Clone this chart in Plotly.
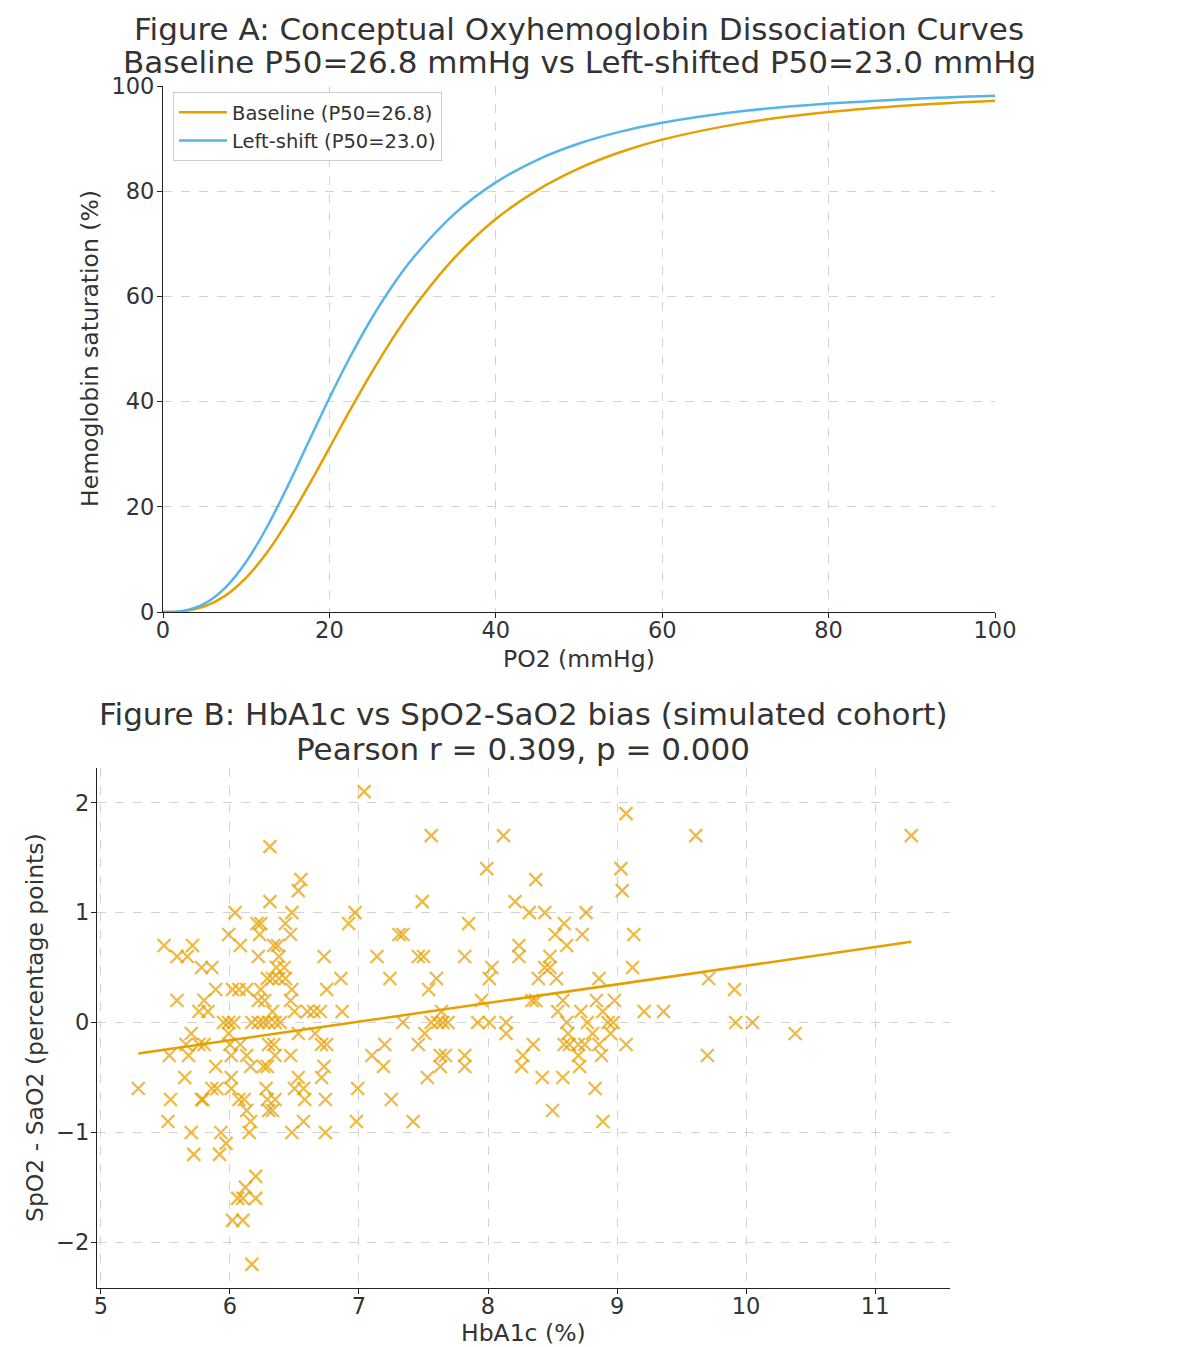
import numpy as np
import plotly.graph_objects as go

# ---------------- Figure A data ----------------
po2 = [0, 2.5, 5, 7.5, 10, 12.5, 15, 17.5, 20, 22.5, 25, 27.5, 30, 35, 40, 45, 50, 55, 60, 70, 80, 90, 100]
sat_baseline = [0, 0.16, 1.06, 3.11, 6.52, 11.31, 17.27, 24.04, 31.2, 38.41, 45.32, 51.74, 57.56,
                67.28, 74.7, 80.21, 84.34, 87.45, 89.81, 93.04, 95.04, 96.34, 97.2]
sat_leftshift = [0, 0.25, 1.60, 4.63, 9.54, 16.16, 23.98, 32.35, 40.68, 48.52, 55.61, 61.84, 67.20,
                 75.65, 81.67, 85.96, 89.06, 91.32, 93.01, 95.28, 96.66, 97.55, 98.14]

# ---------------- Figure B data ----------------
hba1c = [
    5.29, 5.49, 5.71, 5.59, 5.67, 5.78, 5.59, 5.80, 5.76, 5.70, 5.66, 5.53, 5.68, 5.65, 5.54, 5.78, 5.52, 5.70, 5.72, 5.76, 5.80,
    6.31, 6.31, 6.04, 6.21, 6.24, 5.99, 6.23, 6.08, 6.34, 6.22, 5.86, 6.36, 6.38, 6.33, 6.29, 5.89, 6.02, 6.07, 6.13, 6.24,
    6.22, 5.83, 5.99, 6.03, 5.95, 6.17, 6.22, 6.26, 6.30, 6.35, 6.27, 6.33,
    6.00, 6.08, 6.13, 5.89, 6.01, 6.16, 6.29, 6.35, 6.34, 6.30, 6.01, 5.86, 5.90, 6.01, 5.79, 6.07, 6.11, 6.13, 6.29, 6.33,
    6.30, 6.28, 6.16, 6.15, 5.93, 5.97, 5.92, 6.20, 6.12, 6.06, 6.10, 6.20, 6.02, 6.10, 6.17, 6.26, 6.35, 5.99,
    7.04, 6.55, 6.53, 6.48, 6.43, 6.47, 6.97, 6.92, 6.37, 6.38, 6.42, 6.43, 6.73, 6.86, 6.75, 6.48, 6.47, 6.50, 6.60, 6.65,
    6.70, 6.87, 6.39,
    6.53, 6.66, 6.71, 6.75, 6.47, 6.73, 6.71, 6.53, 6.50, 6.57, 6.58, 6.74, 6.57, 6.48, 6.74, 6.99, 6.98,
    7.56, 8.12, 7.99, 8.37, 7.49, 8.21, 8.32, 8.44, 7.85, 7.31, 7.34, 8.52, 7.14, 7.46, 7.50, 7.82, 8.24, 8.24, 8.48, 8.44,
    8.48, 7.24, 7.60, 7.54, 8.03, 8.01, 8.39, 8.53, 7.95, 8.34, 8.37, 7.64, 7.34, 7.56, 7.61, 7.65, 7.69, 7.92, 8.01, 8.14,
    7.51, 7.46, 7.20, 7.10, 7.19, 7.63, 7.67, 7.63, 7.82, 7.82, 7.53, 7.25, 7.42, 8.14, 8.26, 8.27, 8.35, 8.42, 8.50,
    9.07, 9.61, 9.03, 9.04, 8.76, 8.59, 8.73, 9.13, 8.61, 9.12, 8.86, 9.71, 9.91, 8.58, 8.84, 8.98, 8.54, 8.72, 8.89, 9.21,
    9.36, 8.61, 8.77, 8.93, 8.97, 9.92, 10.05,
    8.62, 8.59, 8.63, 8.70, 8.75, 8.81, 8.86, 8.88, 8.70, 8.95, 8.71, 8.58, 8.83, 8.89, 9.07, 9.70,
    11.28, 10.38,
]
bias = [
    -0.6, 0.7, 0.7, 0.6, 0.6, 0.5, 0.2, 0.2, 0.1, -0.1, -0.2, -0.3, -0.3, -0.5, -0.7, -0.7, -0.9, -1.0, -1.2, -0.2, -0.2,
    1.6, 1.1, 1.0, 0.9, 0.9, 0.8, 0.8, 0.7, 0.7, 0.6, 0.5, 0.5, 0.4, 0.4, 0.4, 0.3, 0.3, 0.3, 0.3, 0.3,
    0.2, 0.1, 0.0, 0.0, 0.0, 0.0, 0.0, 0.0, 0.0, 0.0, 0.2, 0.1,
    -0.2, -0.2, -0.3, -0.4, -0.3, -0.4, -0.4, -0.3, -0.2, -0.2, -0.5, -0.6, -0.6, -0.6, -0.7, -0.7, -0.7, -0.8, -0.7, -0.8,
    -0.8, -0.6, -0.9, -1.0, -1.0, -1.1, -1.2, -1.4, -1.5, -1.6, -1.6, -1.6, -1.8, -1.8, -2.2, -0.4, -0.7, -0.1,
    2.1, 1.3, 1.2, 1.0, 0.9, 0.8, 1.0, 0.9, 0.7, 0.6, 0.5, 0.4, 0.6, 0.4, 0.3, 0.3, 0.2, 0.1, 0.1, 0.1,
    0.1, 0.1, 0.0,
    -0.1, -0.1, -0.2, -0.2, -0.3, -0.4, -0.5, -0.5, -0.6, -0.6, -0.7, -0.7, -0.9, -1.0, -1.0, -0.6, -0.9,
    1.7, 1.7, 1.4, 1.3, 1.1, 1.1, 1.0, 1.0, 0.9, 0.8, 0.8, 0.8, 0.6, 0.6, 0.6, 0.6, 0.7, 0.6, 0.6, 0.5,
    0.5, 0.4, 0.4, 0.3, 0.5, 0.4, 0.4, 0.4, 0.2, 0.2, 0.2, 0.1, 0.0, 0.0, 0.0, 0.0, 0.0, 0.0, 0.0, 0.0,
    -0.1, -0.2, -0.2, -0.3, -0.4, -0.3, -0.3, -0.4, -0.3, -0.4, -0.5, -0.7, -0.9, -0.1, -0.4, -0.3, -0.2, -0.5, -0.8,
    1.9, 1.7, 1.4, 1.2, 1.0, 0.9, 0.8, 0.8, 0.7, 0.5, 0.4, 0.4, 0.3, 0.2, 0.2, 0.2, 0.1, 0.1, 0.1, 0.1,
    0.1, 0.0, 0.0, 0.0, 0.0, 0.0, 0.0,
    -0.1, -0.2, -0.2, -0.2, -0.2, -0.1, -0.2, -0.3, -0.3, -0.1, -0.4, -0.5, -0.6, -0.9, -0.2, -0.3,
    1.7, -0.1,
]

title_a = ["Figure A: Conceptual Oxyhemoglobin Dissociation Curves",
           "Baseline P50=26.8 mmHg vs Left-shifted P50=23.0 mmHg"]
title_b = ["Figure B: HbA1c vs SpO2-SaO2 bias (simulated cohort)",
           "Pearson r = 0.309, p = 0.000"]

ORANGE = "#E69F00"
BLUE = "#56B4E9"
TXT = "#333333"
FONT = "DejaVu Sans"
OFF = 8                      # page body margin of the html page
W, H = 1195 - OFF, 1347 - OFF

x_arr = np.array(hba1c)
y_arr = np.array(bias)
slope, intercept = np.polyfit(x_arr, y_arr, 1)
fit_x = np.array([x_arr.min(), x_arr.max()])
fit_y = slope * fit_x + intercept

fig = go.Figure()
fig.add_trace(go.Scatter(x=po2, y=sat_baseline, mode="lines", line=dict(color=ORANGE, width=2.5, shape="spline"),
                         name="Baseline (P50=26.8)", xaxis="x", yaxis="y"))
fig.add_trace(go.Scatter(x=po2, y=sat_leftshift, mode="lines", line=dict(color=BLUE, width=2.5, shape="spline"),
                         name="Left-shift (P50=23.0)", xaxis="x", yaxis="y"))
fig.add_trace(go.Scatter(x=hba1c, y=bias, mode="markers", showlegend=False,
                         marker=dict(symbol="x-thin-open", size=13, color="rgba(230,159,0,0.72)",
                                     line=dict(width=2.3, color="rgba(230,159,0,0.72)")),
                         xaxis="x2", yaxis="y2"))
fig.add_trace(go.Scatter(x=fit_x, y=fit_y, mode="lines", showlegend=False,
                         line=dict(color=ORANGE, width=2.5), xaxis="x2", yaxis="y2"))


def px_x(p):
    return (p - OFF) / W


def px_y(p):
    return 1 - (p - OFF) / H


axis_common = dict(showline=True, linecolor="#222222", linewidth=1.3, ticks="outside", ticklen=5,
                   tickcolor="#222222", tickfont=dict(size=22.5, color=TXT, family=FONT),
                   showgrid=True, gridcolor="#d3d3d3", griddash="dash", gridwidth=1, zeroline=False,
                   mirror=False, automargin=False)

fig.update_layout(
    width=W, height=H,
    margin=dict(l=0, r=0, t=0, b=0, pad=0, autoexpand=False),
    paper_bgcolor="white", plot_bgcolor="white",
    font=dict(family=FONT, color=TXT),
    xaxis=dict(domain=[px_x(163), px_x(995)], range=[0, 100], tickvals=[0, 20, 40, 60, 80, 100],
               anchor="y", ticklabelstandoff=-7, **axis_common),
    yaxis=dict(domain=[px_y(612), px_y(86)], range=[0, 100], tickvals=[0, 20, 40, 60, 80, 100],
               anchor="x", ticklabelstandoff=-2, **axis_common),
    xaxis2=dict(domain=[px_x(97), px_x(950)], range=[4.97, 11.58], tickvals=[5, 6, 7, 8, 9, 10, 11],
                anchor="y2", ticklabelstandoff=-7, **axis_common),
    yaxis2=dict(domain=[px_y(1288), px_y(768)], range=[-2.415, 2.315], tickvals=[-2, -1, 0, 1, 2],
                ticktext=["\u22122", "\u22121", "0", "1", "2"],
                anchor="x2", ticklabelstandoff=-3, **axis_common),
    legend=dict(x=px_x(173), y=px_y(92), xanchor="left", yanchor="top",
                bgcolor="rgba(255,255,255,0.85)", bordercolor="#cccccc", borderwidth=1,
                font=dict(size=19.5, color=TXT, family=FONT), tracegroupgap=0, itemwidth=48),
    showlegend=True,
)


def ann(text, xp, yp, size, angle=0, height=None):
    d = dict(text=text, x=px_x(xp), y=px_y(yp), xref="paper", yref="paper", showarrow=False,
             textangle=angle, font=dict(size=size, color=TXT, family=FONT),
             xanchor="center", yanchor="middle", borderpad=0)
    if height is not None:
        d["height"] = height
        d["valign"] = "middle"
    return d


annotations = [
    ann(title_a[0], 579, 28, 31, height=33),
    ann(title_a[1], 579, 61, 31, height=35),
    ann(title_b[0], 523, 713, 31, height=35),
    ann(title_b[1], 523, 748, 31, height=35),
    ann("PO2 (mmHg)", 579, 659, 23.5),
    ann("Hemoglobin saturation (%)", 90, 349, 23.5, -90),
    ann("HbA1c (%)", 523, 1333, 23.5),
    ann("SpO2 - SaO2 (percentage points)", 35, 1028, 23.5, -90),
]
fig.update_layout(annotations=annotations)

fig.write_html("out.html")
